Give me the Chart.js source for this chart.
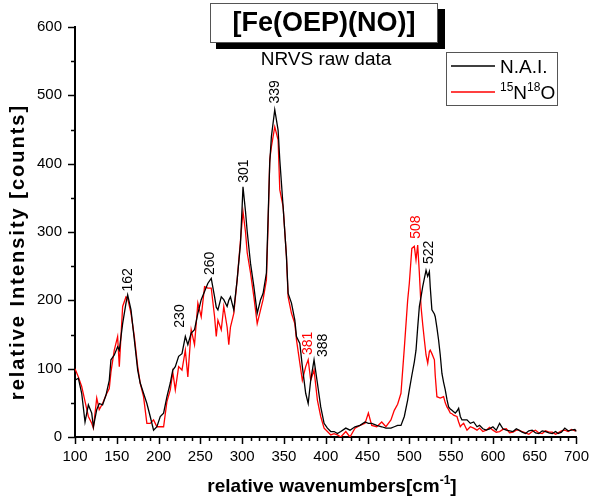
<!DOCTYPE html>
<html>
<head>
<meta charset="utf-8">
<script src="https://cdn.jsdelivr.net/npm/chart.js@4/dist/chart.umd.min.js"></script>
<style>
html,body{margin:0;padding:0;background:#fff;}
#wrap{width:600px;height:497px;}
</style>
</head>
<body>
<div id="wrap"><canvas id="c" width="600" height="497"></canvas></div>
<script>
// ---- data ----
const wavenumbers = [100,104,108,112,116,120,122,126,129,133,137,141,143,147,151,153,157,161,163,167,171,175,178,182,186,190,194,198,202,206,210,214,217,220,224,228,232,235,239,243,247,251,255,259,263,267,269,271,275,278,282,284,286,290,294,298,301,304,306,310,314,318,322,325,329,331,333,335,339,343,345,349,353,355,359,363,365,369,372,376,379,382,386,390,394,398,402,406,410,414,418,424,429,435,441,447,451,455,461,467,472,478,482,486,490,494,498,500,503,506,508,510,512,514,516,518,520,522,524,525,527,530,531,533,535,537,539,541,543,545,547,549,551,553,555,557,559,561,563,565,569,573,577,581,584,588,592,596,600,604,608,612,616,620,624,628,631,635,639,643,647,651,655,659,663,667,671,675,678,682,686,690,694,698,700];
const naiCounts = [83,86,64,22,47,35,15,40,49,47,61,83,113,120,132,127,166,196,208,186,142,98,79,64,49,30,10,15,30,35,59,79,98,103,118,122,147,135,152,157,181,201,213,225,232,205,190,186,205,201,191,200,205,186,230,283,366,330,301,254,220,181,201,210,240,320,401,440,479,449,406,337,264,210,196,171,147,137,103,64,49,83,113,79,44,20,13,8,8,5,8,13,10,15,17,22,20,20,17,15,13,13,15,17,17,30,54,69,90,110,127,160,191,205,220,232,244,235,242,220,186,180,176,160,142,120,93,80,69,55,44,41,39,37,35,38,42,30,25,25,25,20,22,15,17,12,10,12,15,10,20,12,10,9,8,12,10,7,5,9,10,6,5,9,8,6,5,8,5,7,13,9,10,11,8];
const n15o18Counts = [100,88,74,52,30,20,13,57,40,49,61,71,95,127,147,103,191,205,203,181,147,103,79,59,20,20,25,15,15,15,52,69,95,69,103,98,127,88,157,135,196,176,220,218,218,176,147,171,157,191,161,135,161,181,230,288,330,300,270,240,205,166,186,201,230,310,406,425,454,435,362,337,264,205,181,166,142,108,83,103,113,83,98,54,30,13,8,3,5,3,0,8,0,13,17,20,35,17,15,22,15,25,39,48,64,130,200,225,276,279,259,281,240,191,165,142,120,108,125,127,122,113,90,59,58,57,58,59,50,44,40,35,34,32,31,30,22,15,18,20,10,15,13,10,13,8,10,14,10,7,8,11,12,6,7,10,10,8,6,4,8,10,6,5,9,7,7,4,6,9,10,8,11,9,10];
const seriesNames = ['N.A.I.', '15N18O'];
const xTickValues = [100,150,200,250,300,350,400,450,500,550,600,650,700];
const yTickValues = [0,100,200,300,400,500,600];
const peakLabels = ['162','230','260','301','339','381','388','508','522'];
const peakLabelX = [164,226,262,302,340,379,397,508,524];
const peakLabelY = [213,160,237,372,488,120,117,290,253];
const peakSeries = [0,0,0,0,0,1,0,1,0];

const COLORS = ['#000000', '#ff0000'];
const FONT = '"Liberation Sans", Arial, sans-serif';

function pts(ys){ return wavenumbers.map((x,i)=>({x:x,y:ys[i]})); }

function textSup(ctx, parts, x, y, size, bold){
  let cx = x;
  for (const [t, sup] of parts){
    const fs = sup ? Math.round(size*0.62) : size;
    ctx.font = (bold?'bold ':'') + fs + 'px ' + FONT;
    ctx.fillText(t, cx, sup ? y - size*0.42 : y);
    cx += ctx.measureText(t).width;
  }
  return cx - x;
}
function measureSup(ctx, parts, size, bold){
  let w = 0;
  for (const [t, sup] of parts){
    const fs = sup ? Math.round(size*0.62) : size;
    ctx.font = (bold?'bold ':'') + fs + 'px ' + FONT;
    w += ctx.measureText(t).width;
  }
  return w;
}

const decor = {
  id: 'decor',
  afterDraw(chart){
    const ctx = chart.ctx;
    const xs = chart.scales.x, ys = chart.scales.y;
    const area = chart.chartArea;
    ctx.save();
    ctx.strokeStyle = '#000';
    ctx.lineWidth = 1.5;
    for (let v = 100; v <= 700; v += 10){
      const px = Math.round(xs.getPixelForValue(v)) + 0.5;
      const len = (v % 50 === 0) ? 7 : 4;
      ctx.beginPath(); ctx.moveTo(px, area.bottom); ctx.lineTo(px, area.bottom + len); ctx.stroke();
    }
    for (let v = 0; v <= 600; v += 50){
      const py = Math.round(ys.getPixelForValue(v)) + 0.5;
      const len = (v % 100 === 0) ? 7 : 4;
      ctx.beginPath(); ctx.moveTo(area.left, py); ctx.lineTo(area.left - len, py); ctx.stroke();
    }
    ctx.font = '14px ' + FONT;
    ctx.textAlign = 'left';
    ctx.textBaseline = 'middle';
    peakLabels.forEach((t,i)=>{
      const px = xs.getPixelForValue(peakLabelX[i]);
      const py = ys.getPixelForValue(peakLabelY[i]);
      ctx.save();
      ctx.translate(px, py);
      ctx.rotate(-Math.PI/2);
      ctx.fillStyle = COLORS[peakSeries[i]];
      ctx.fillText(t, 0, 0);
      ctx.restore();
    });
    ctx.fillStyle = '#000';
    ctx.fillRect(216, 9, 229, 40);
    ctx.fillStyle = '#fff';
    ctx.fillRect(210, 3, 228, 40);
    ctx.strokeStyle = '#555';
    ctx.lineWidth = 1;
    ctx.strokeRect(210.5, 3.5, 227, 39);
    ctx.fillStyle = '#000';
    ctx.font = 'bold 27px ' + FONT;
    ctx.textAlign = 'center';
    ctx.textBaseline = 'middle';
    ctx.fillText('[Fe(OEP)(NO)]', 324, 24);
    ctx.font = '19px ' + FONT;
    ctx.fillText('NRVS raw data', 326, 60);
    ctx.strokeStyle = '#555';
    ctx.lineWidth = 1;
    ctx.strokeRect(446.5, 52.5, 111, 53);
    ctx.lineWidth = 1.3;
    ctx.strokeStyle = COLORS[0];
    ctx.beginPath(); ctx.moveTo(451, 66); ctx.lineTo(495, 66); ctx.stroke();
    ctx.strokeStyle = COLORS[1];
    ctx.beginPath(); ctx.moveTo(451, 92); ctx.lineTo(495, 92); ctx.stroke();
    ctx.fillStyle = '#000';
    ctx.textAlign = 'left';
    ctx.textBaseline = 'alphabetic';
    ctx.font = '19px ' + FONT;
    ctx.fillText(seriesNames[0], 500, 73);
    textSup(ctx, [['15',true],['N',false],['18',true],['O',false]], 500, 99, 19, false);
    const xt = [['relative wavenumbers[cm',false],['-1',true],[']',false]];
    const xw = measureSup(ctx, xt, 19, true);
    textSup(ctx, xt, 332 - xw/2, 492, 19, true);
    ctx.save();
    ctx.translate(24, 252);
    ctx.rotate(-Math.PI/2);
    ctx.font = 'bold 20px ' + FONT;
    ctx.letterSpacing = '2px';
    ctx.textAlign = 'center';
    ctx.fillText('relative Intensity [counts]', 0, 0);
    ctx.restore();
    ctx.restore();
  }
};

new Chart(document.getElementById('c'), {
  type: 'line',
  data: {
    datasets: [
      { label: seriesNames[0], data: pts(naiCounts), borderColor: COLORS[0], borderWidth: 1.3, pointRadius: 0, tension: 0, fill: false },
      { label: seriesNames[1], data: pts(n15o18Counts), borderColor: COLORS[1], borderWidth: 1.3, pointRadius: 0, tension: 0, fill: false }
    ]
  },
  options: {
    responsive: false,
    animation: false,
    events: [],
    layout: { padding: { top: 27, right: 15, left: 0, bottom: 0 } },
    plugins: { legend: { display: false }, title: { display: false }, tooltip: { enabled: false } },
    scales: {
      x: {
        type: 'linear', min: 100, max: 700,
        afterBuildTicks(s){ s.ticks = xTickValues.map(v=>({value:v})); },
        afterFit(s){ s.height = 60; },
        grid: { display: true, drawOnChartArea: false, drawTicks: false },
        border: { display: true, color: '#000', width: 2 },
        ticks: { color: '#000', font: { family: FONT, size: 15 }, padding: 11, maxRotation: 0, autoSkip: false }
      },
      y: {
        type: 'linear', min: 0, max: 600,
        afterBuildTicks(s){ s.ticks = yTickValues.map(v=>({value:v})); },
        afterFit(s){ s.width = 75; },
        grid: { display: true, drawOnChartArea: false, drawTicks: false },
        border: { display: true, color: '#000', width: 2 },
        ticks: { color: '#000', font: { family: FONT, size: 15 }, padding: 13 }
      }
    }
  },
  plugins: [decor]
});
</script>
</body>
</html>
